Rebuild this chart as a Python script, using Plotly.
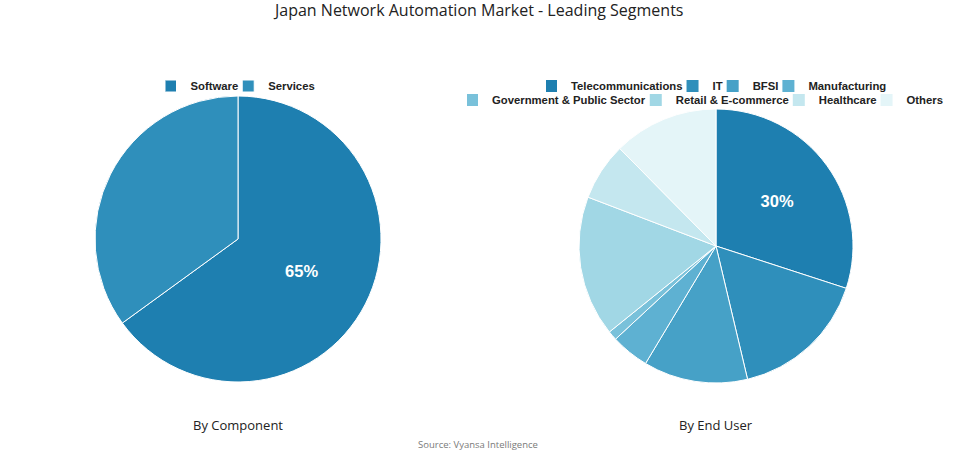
import plotly.graph_objects as go

# ---- data ----
component_labels = ["Software", "Services"]
component_values = [65, 35]
component_colors = ["#1e7fb0", "#2f8fbb"]

enduser_labels = ["Telecommunications", "IT", "BFSI", "Manufacturing",
                  "Government & Public Sector", "Retail & E-commerce", "Healthcare", "Others"]
enduser_values = [30, 16.3, 12.3, 4.5, 1.1, 16.6, 6.8, 12.4]
enduser_colors = ["#1e7fb0", "#2f8fbb", "#46a1c7", "#5eb1d2", "#79c1da",
                  "#a1d7e5", "#c4e7ef", "#e4f5f8"]

title_text = "Japan Network Automation Market - Leading Segments"
subtitle_left = "By Component"
subtitle_right = "By End User"
source_text = "Source: Vyansa Intelligence"

W, H = 955, 454


def px(x):
    return x / W


def py(y):
    return 1 - y / H


def big_only(vals):
    m = max(vals)
    return ["%{percent:.0%}" if v == m else "" for v in vals]


pie_font = dict(family="Liberation Sans", size=16.5, color="white", weight="bold")

fig = go.Figure()

fig.add_trace(go.Pie(
    labels=component_labels, values=component_values,
    marker=dict(colors=component_colors, line=dict(color="white", width=1)),
    sort=False, direction="clockwise", rotation=0,
    texttemplate=big_only(component_values), textposition="inside",
    insidetextorientation="horizontal", textfont=pie_font,
    domain=dict(x=[px(95), px(381)], y=[py(382), py(96)]),
    legend="legend", showlegend=True, hoverinfo="label+percent",
))

fig.add_trace(go.Pie(
    labels=enduser_labels, values=enduser_values,
    marker=dict(colors=enduser_colors, line=dict(color="white", width=1)),
    sort=False, direction="clockwise", rotation=0,
    texttemplate=big_only(enduser_values), textposition="inside",
    insidetextorientation="horizontal", textfont=pie_font,
    domain=dict(x=[px(579), px(853)], y=[py(383), py(109)]),
    showlegend=False, hoverinfo="label+percent",
))

# legend entries for the end-user pie, split in two rows
for i, (lab, col) in enumerate(zip(enduser_labels, enduser_colors)):
    fig.add_trace(go.Scatter(
        x=[None], y=[None], mode="markers", name=lab,
        marker=dict(symbol="square", size=12, color=col),
        legend="legend2" if i < 4 else "legend3", showlegend=True,
        hoverinfo="skip",
    ))

legend_common = dict(
    orientation="h", yanchor="middle",
    font=dict(family="Liberation Sans", size=11.3, color="#222", weight="bold"),
    bgcolor="rgba(0,0,0,0)", itemwidth=30, indentation=-15,
)

fig.update_layout(
    width=W, height=H,
    margin=dict(l=0, r=0, t=0, b=0, autoexpand=False),
    paper_bgcolor="white", plot_bgcolor="white",
    xaxis=dict(visible=False), yaxis=dict(visible=False),
    legend=dict(x=px(243), y=py(86), xanchor="center", **legend_common),
    legend2=dict(x=px(719), y=py(86), xanchor="center", **legend_common),
    legend3=dict(x=px(948), y=py(100), xanchor="right", **legend_common),
    annotations=[
        dict(text=title_text, x=px(477.5), y=py(10), xref="paper", yref="paper",
             showarrow=False, xanchor="center", yanchor="middle",
             font=dict(family="Open Sans", size=16, color="#222")),
        dict(text=subtitle_left, x=px(238), y=py(425), xref="paper", yref="paper",
             showarrow=False, xanchor="center", yanchor="middle",
             font=dict(family="Open Sans", size=13, color="#222")),
        dict(text=subtitle_right, x=px(716), y=py(425), xref="paper", yref="paper",
             showarrow=False, xanchor="center", yanchor="middle",
             font=dict(family="Open Sans", size=13, color="#222")),
        dict(text=source_text, x=px(477.5), y=py(444), xref="paper", yref="paper",
             showarrow=False, xanchor="center", yanchor="middle",
             font=dict(family="Open Sans", size=9.5, color="#7a7a7a")),
    ],
)

fig.write_html("out.html", config={"displayModeBar": False},
               post_script="document.body.style.margin='0';")
